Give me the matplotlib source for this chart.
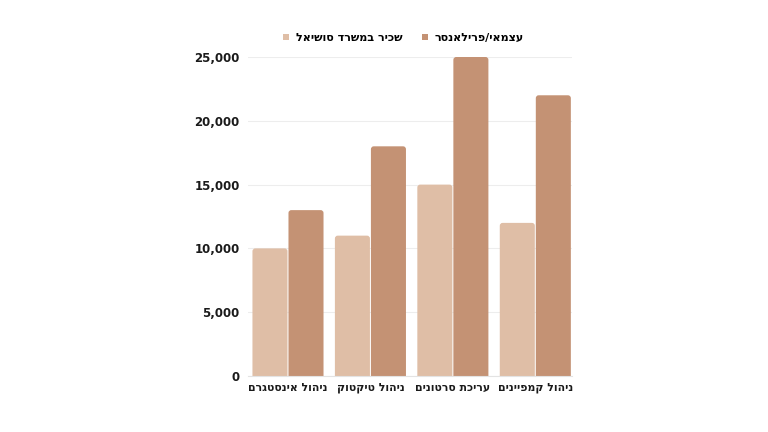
import matplotlib
matplotlib.use("Agg")
import matplotlib.pyplot as plt
from matplotlib.patches import FancyBboxPatch, Patch
from matplotlib.ticker import FuncFormatter
import numpy as np

categories = ["ניהול אינסטגרם", "ניהול טיקטוק", "עריכת סרטונים", "ניהול קמפיינים"]
series_names = ["שכיר במשרד סושיאל", "עצמאי/פרילאנסר"]
employed = [10000, 11000, 15000, 12000]
freelance = [13000, 18000, 25000, 22000]
colors = ["#DFBEA6", "#C49274"]

def rtl(s):
    return s[::-1]

plt.rcParams['font.family'] = ['DejaVu Sans']

fig = plt.figure(figsize=(7.68, 4.32), dpi=100)
ax = fig.add_axes([248/768, 1-376/432, (572-248)/768, (376-57)/432])

x = np.arange(len(categories))
w = 0.425
gap = 0.012
ax.set_xlim(-0.485, 3.445)
ax.set_ylim(0, 25000)

px_per_x = (572-248) / (3.445 + 0.485)
px_per_y = (376-57) / 25000
aspect = px_per_x / px_per_y

for i, (vals, col) in enumerate(zip([employed, freelance], colors)):
    offs = x + (i - 0.5) * (w + gap)
    bars = ax.bar(offs, vals, width=w, color=col, zorder=2)
    for b in bars:
        b.set_visible(False)
        bx, by = b.get_x(), b.get_y()
        bw, bh = b.get_width(), b.get_height()
        p = FancyBboxPatch((bx, by - 600), bw, bh + 600,
                           boxstyle="round,pad=0,rounding_size=0.035",
                           mutation_aspect=aspect,
                           facecolor=col, edgecolor="none", zorder=2)
        ax.add_patch(p)

ax.set_yticks([0, 5000, 10000, 15000, 20000, 25000])
ax.yaxis.set_major_formatter(FuncFormatter(lambda v, p: f"{int(v):,}"))
ax.grid(axis='y', color='#EDEDED', linewidth=0.8, zorder=0)
ax.set_axisbelow(True)
for s in ['top', 'right', 'left']:
    ax.spines[s].set_visible(False)
ax.spines['bottom'].set_color('#E3E3E3')
ax.spines['bottom'].set_linewidth(0.8)
ax.tick_params(axis='both', length=0)
ax.tick_params(axis='y', pad=6, labelsize=8.5, labelcolor='#1a1a1a')
ax.tick_params(axis='x', pad=5, labelsize=7.8, labelcolor='#1a1a1a')
for lab in ax.get_yticklabels():
    lab.set_fontweight('bold')
ax.set_xticks(x)
ax.set_xticklabels([rtl(c) for c in categories], fontweight='bold')

leg_handles = [Patch(facecolor=colors[0]), Patch(facecolor=colors[1])]
leg = ax.legend(leg_handles, [rtl(s) for s in series_names], loc='lower center',
                bbox_to_anchor=(0.48, 1.012), ncol=2, frameon=False,
                prop={'weight': 'bold', 'size': 8},
                handlelength=0.5, handleheight=0.5, handletextpad=0.6,
                columnspacing=1.8)

fig.savefig("out.png", dpi=100)
